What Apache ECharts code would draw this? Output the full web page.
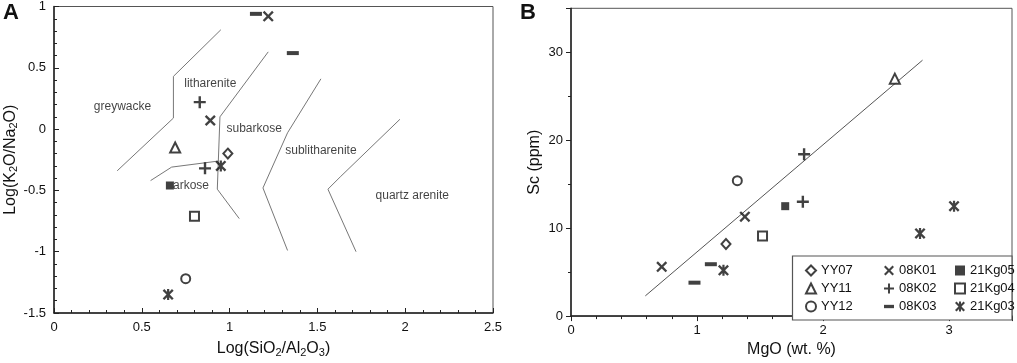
<!DOCTYPE html>
<html>
<head>
<meta charset="utf-8">
<script src="https://cdn.jsdelivr.net/npm/echarts@6/dist/echarts.min.js"></script>
<style>
html,body{margin:0;padding:0;background:#fff;}
#main{width:1017px;height:363px;}
</style>
</head>
<body>
<div id="main"></div>
<script>
// sample names (legend order: column by column)
var sampleNames = ['YY07', 'YY11', 'YY12', '08K01', '08K02', '08K03', '21Kg05', '21Kg04', '21Kg03'];

// panel A: Log(SiO2/Al2O3) vs Log(K2O/Na2O)
var yy07A = [[0.99, -0.20]];
var yy11A = [[0.69, -0.15]];
var yy12A = [[0.75, -1.22]];
var k01A = [[0.89, 0.07], [1.22, 0.92]];
var k02A = [[0.83, 0.22], [0.86, -0.32]];
var k03A = [[1.15, 0.94], [1.36, 0.62]];
var kg05A = [[0.66, -0.46]];
var kg04A = [[0.80, -0.71]];
var kg03A = [[0.95, -0.30], [0.65, -1.35]];

// classification boundaries (panel A)
var lineGreywacke = [[0.95, 0.81], [0.68, 0.43], [0.68, 0.09], [0.36, -0.34]];
var lineArkose = [[0.55, -0.42], [0.67, -0.31], [0.94, -0.26]];
var lineSubarkose = [[1.22, 0.63], [0.945, 0.10], [0.93, -0.49], [1.055, -0.73]];
var lineSublith = [[1.52, 0.41], [1.33, -0.03], [1.19, -0.48], [1.33, -0.99]];
var lineQuartz = [[1.97, 0.08], [1.63, -0.39], [1.56, -0.49], [1.72, -1.00]];

var regionNames = ['greywacke', 'litharenite', 'subarkose', 'sublitharenite', 'quartz arenite', 'arkose'];
var regionX = [0.39, 0.89, 1.14, 1.52, 2.04, 0.78];
var regionY = [0.18, 0.37, 0.0, -0.18, -0.54, -0.46];

// panel B: MgO vs Sc
var yy07B = [[1.23, 8.2]];
var yy11B = [[2.57, 27.0]];
var yy12B = [[1.32, 15.4]];
var k01B = [[0.72, 5.6], [1.38, 11.3]];
var k02B = [[1.85, 18.4], [1.84, 13.0]];
var k03B = [[0.98, 3.8], [1.11, 5.9]];
var kg05B = [[1.70, 12.5]];
var kg04B = [[1.52, 9.1]];
var kg03B = [[1.21, 5.2], [2.77, 9.4], [3.04, 12.5]];
var fitLineB = [[0.59, 2.3], [2.79, 29.1]];

var dataA = [yy07A, yy11A, yy12A, k01A, k02A, k03A, kg05A, kg04A, kg03A];
var dataB = [yy07B, yy11B, yy12B, k01B, k02B, k03B, kg05B, kg04B, kg03B];

// marker styles
var pX = 'path://M0,1.5 L1.5,0 L5,3.5 L8.5,0 L10,1.5 L6.5,5 L10,8.5 L8.5,10 L5,6.5 L1.5,10 L0,8.5 L3.5,5 Z';
var pPlus = 'path://M4,0 L6,0 L6,4 L10,4 L10,6 L6,6 L6,10 L4,10 L4,6 L0,6 L0,4 L4,4 Z';
var pMinus = 'path://M0,0 L12,0 L12,4 L0,4 Z';
var pStar = 'path://M0,1.5 L1.5,0 L5,3.5 L8.5,0 L10,1.5 L6.5,5 L10,8.5 L8.5,10 L5,6.5 L1.5,10 L0,8.5 L3.5,5 Z M4,0 L6,0 L6,10 L4,10 Z';
var symbols = ['diamond', 'triangle', 'circle', pX, pPlus, 'rect', 'rect', 'rect', pStar];
var legendIcons = ['diamond', 'triangle', 'circle', pX, pPlus, pMinus, 'rect', 'rect', pStar];
var sizes = [[9, 10], 10, 9, 11, 12, [12, 4], 8, 9, 11];
var hollow = [true, true, true, false, false, false, false, true, false];

var font = 'Liberation Sans';

function markerSeries(i, data, xi) {
    return {
        name: sampleNames[i],
        type: 'scatter',
        xAxisIndex: xi,
        yAxisIndex: xi,
        symbol: symbols[i],
        symbolSize: sizes[i],
        itemStyle: hollow[i] ? {color: '#fff', borderColor: '#111', borderWidth: 2} : {color: '#111'},
        emphasis: {disabled: true},
        data: data,
        z: 5
    };
}

function boundary(pts) {
    return {
        type: 'line',
        xAxisIndex: 0,
        yAxisIndex: 0,
        data: pts,
        symbol: 'none',
        lineStyle: {color: '#777', width: 1},
        silent: true
    };
}

var series = [];
for (var i = 0; i < sampleNames.length; i++) {
    series.push(markerSeries(i, dataA[i], 0));
    series.push(markerSeries(i, dataB[i], 1));
}
[lineGreywacke, lineArkose, lineSubarkose, lineSublith, lineQuartz].forEach(function (l) {
    series.push(boundary(l));
});
series.push({
    type: 'scatter',
    xAxisIndex: 0,
    yAxisIndex: 0,
    symbolSize: 1,
    itemStyle: {color: 'rgba(0,0,0,0)'},
    label: {
        show: true,
        position: 'inside',
        formatter: function (p) { return p.name; },
        color: '#111',
        fontFamily: font,
        fontSize: 12
    },
    silent: true,
    data: regionNames.map(function (n, k) { return {name: n, value: [regionX[k], regionY[k]]}; })
});
series.push({
    type: 'line',
    xAxisIndex: 1,
    yAxisIndex: 1,
    data: fitLineB,
    symbol: 'none',
    lineStyle: {color: '#555', width: 1},
    silent: true
});

var subRich = {sub: {fontSize: 11, verticalAlign: 'bottom', padding: [8, 0, 0, 0], fontFamily: font, color: '#111'}};
var axisCommon = {
    axisLine: {onZero: false, lineStyle: {color: '#222', width: 1.5}},
    axisLabel: {color: '#111', fontSize: 13, fontFamily: font},
    splitLine: {show: false},
    nameTextStyle: {color: '#111', fontSize: 16, fontFamily: font, rich: subRich},
    nameLocation: 'middle'
};

function ax(extra) {
    return Object.assign({}, JSON.parse(JSON.stringify(axisCommon)), extra);
}

function legendCol(idx, left) {
    return {
        orient: 'vertical',
        left: left,
        top: 259,
        itemWidth: 10,
        itemHeight: 10,
        itemGap: 5,
        data: idx.map(function (k) { return {name: sampleNames[k], icon: legendIcons[k]}; }),
        textStyle: {color: '#111', fontSize: 13, fontFamily: font},
        selectedMode: false
    };
}

var dom = document.getElementById('main');
var chart = echarts.init(dom);
var option = {
    backgroundColor: '#fff',
    animation: false,
    grid: [
        {left: 54, top: 6.5, right: 524, bottom: 44.5, show: true, borderColor: '#555', borderWidth: 1},
        {left: 571, top: 8.3, right: 5, bottom: 43, show: true, borderColor: '#555', borderWidth: 1}
    ],
    xAxis: [
        ax({
            gridIndex: 0, type: 'value', min: 0, max: 2.5, interval: 0.5,
            axisTick: {inside: true, length: 5, lineStyle: {color: '#222'}},
            minorTick: {show: true, splitNumber: 5, length: 3, lineStyle: {color: '#222'}},
            name: 'Log(SiO{sub|2}/Al{sub|2}O{sub|3})', nameGap: 26
        }),
        ax({
            gridIndex: 1, type: 'value', min: 0, max: 3.5, interval: 1,
            axisTick: {inside: false, length: 5, lineStyle: {color: '#222'}},
            minorTick: {show: true, splitNumber: 5, length: 3, lineStyle: {color: '#222'}},
            axisLabel: {color: '#111', fontSize: 13, fontFamily: font, showMaxLabel: false},
            name: 'MgO (wt. %)', nameGap: 23
        })
    ],
    yAxis: [
        ax({
            gridIndex: 0, type: 'value', min: -1.5, max: 1, interval: 0.5,
            axisTick: {inside: true, length: 5, lineStyle: {color: '#222'}},
            minorTick: {show: true, splitNumber: 5, length: 3, lineStyle: {color: '#222'}},
            name: 'Log(K{sub|2}O/Na{sub|2}O)', nameGap: 30
        }),
        ax({
            gridIndex: 1, type: 'value', min: 0, max: 35, interval: 10,
            axisTick: {inside: false, length: 5, lineStyle: {color: '#222'}},
            minorTick: {show: true, splitNumber: 2, length: 3, lineStyle: {color: '#222'}},
            axisLabel: {color: '#111', fontSize: 13, fontFamily: font, showMaxLabel: false},
            name: 'Sc (ppm)', nameGap: 28
        })
    ],
    legend: [
        legendCol([0, 1, 2], 800),
        legendCol([3, 4, 5], 879),
        legendCol([6, 7, 8], 949)
    ],
    graphic: [
        {type: 'rect', shape: {x: 792.5, y: 256, width: 219.5, height: 64}, style: {fill: '#fff', stroke: '#555', lineWidth: 1.2}, z: 1},
        {type: 'text', left: 3, top: 2, style: {text: 'A', fontSize: 22, fontWeight: 'bold', fontFamily: font, fill: '#111'}},
        {type: 'text', left: 520, top: 2, style: {text: 'B', fontSize: 22, fontWeight: 'bold', fontFamily: font, fill: '#111'}}
    ],
    series: series
};

if (option && typeof option === "object") {
    chart.setOption(option, true);
}
window.onresize = function () {
    chart.resize();
};
</script>
</body>
</html>
